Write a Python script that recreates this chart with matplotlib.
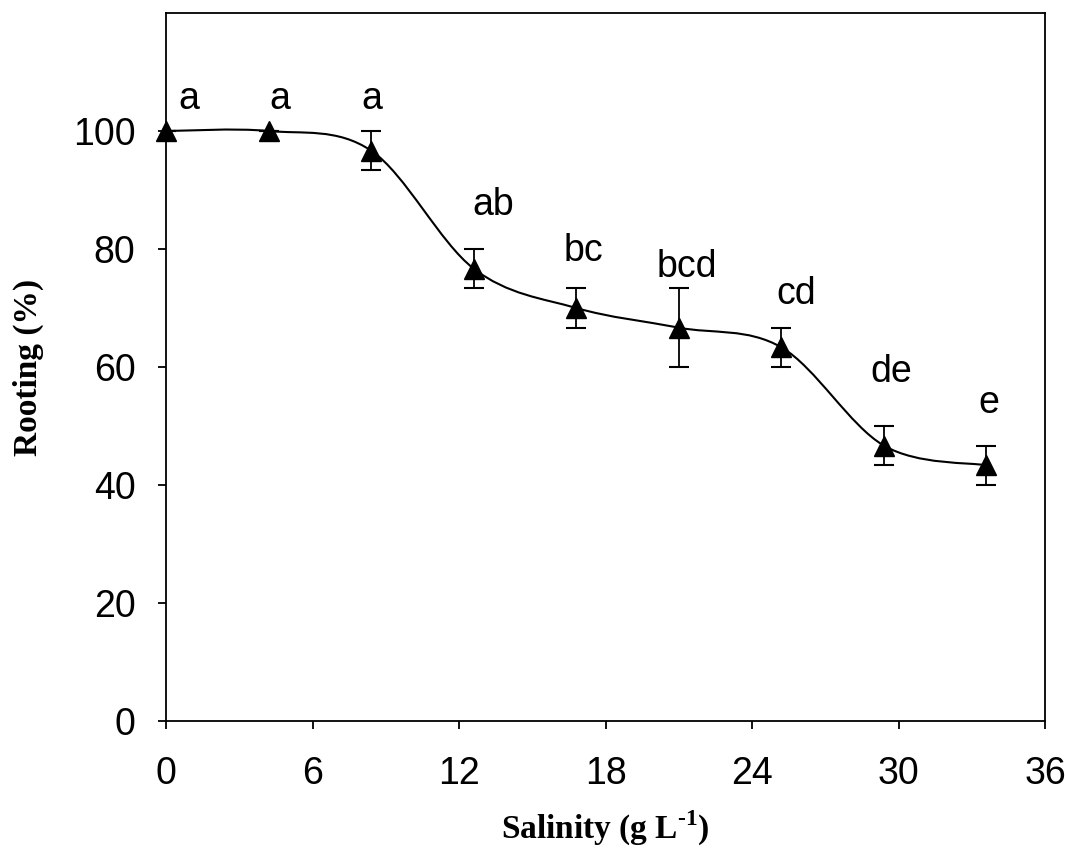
import numpy as np
import matplotlib
matplotlib.use("Agg")
import matplotlib.pyplot as plt
from matplotlib.path import Path
from matplotlib.patches import PathPatch

# Dados: enraizamento (%) vs. salinidade (g/L)
salinity = [0, 4.2, 8.4, 12.6, 16.8, 21.0, 25.2, 29.4, 33.6]
rooting = [100, 100, 96.67, 76.67, 70.0, 66.67, 63.33, 46.67, 43.33]
rooting_err = [0, 0, 3.33, 3.33, 3.33, 6.67, 3.33, 3.33, 3.33]
letters = ["a", "a", "a", "ab", "bc", "bcd", "cd", "de", "e"]

# deslocamento das letras em pixels (estilo)
letter_offsets = [(23, 22), (11, 22), (1, 42), (20, 54), (7, 47),
                  (8, 51), (15, 43), (7, 64), (2, 52)]

plt.rcParams["mathtext.fontset"] = "custom"
plt.rcParams["mathtext.rm"] = "Liberation Serif:bold"
plt.rcParams["mathtext.bf"] = "Liberation Serif:bold"

fig = plt.figure(figsize=(10.65, 8.5), dpi=100)
ax = fig.add_axes([0.1559, 0.1518, 0.8254, 0.8329])


def smooth_path(xs, ys):
    # curva suavizada estilo Excel (Bezier tipo Catmull-Rom)
    p = np.column_stack([xs, ys])
    n = len(p)
    verts = [p[0]]
    codes = [Path.MOVETO]
    for i in range(n - 1):
        p0 = p[i - 1] if i > 0 else p[i]
        p1 = p[i]
        p2 = p[i + 1]
        p3 = p[i + 2] if i + 2 < n else p[i + 1]
        c1 = p1 + (p2 - p0) / 6.0
        c2 = p2 - (p3 - p1) / 6.0
        verts += [c1, c2, p2]
        codes += [Path.CURVE4] * 3
    return Path(verts, codes)


ax.add_patch(PathPatch(smooth_path(salinity, rooting), facecolor="none",
                       edgecolor="black", lw=1.5, zorder=2))

ax.errorbar(salinity, rooting, yerr=rooting_err, fmt="none", ecolor="black",
            elinewidth=1.3, capsize=7.5, capthick=1.5, zorder=3)
ax.plot(salinity, rooting, linestyle="none", marker="^", markersize=15,
        color="black", zorder=4, clip_on=False)

for x, y, lab, (dx, dy) in zip(salinity, rooting, letters, letter_offsets):
    ax.annotate(lab, (x, y), xytext=(dx, dy), textcoords="offset pixels",
                ha="center", va="baseline", fontsize=27,
                family="Liberation Sans")

ax.set_xlim(0, 36)
ax.set_ylim(0, 120)
ax.set_xticks(np.arange(0, 37, 6))
ax.set_yticks(np.arange(0, 101, 20))

for s in ax.spines.values():
    s.set_linewidth(1.3)

ax.tick_params(direction="out", length=6, width=1.3, labelsize=27)
ax.tick_params(axis="x", pad=19)
ax.tick_params(axis="y", pad=16)
for t in ax.get_xticklabels() + ax.get_yticklabels():
    t.set_family("Liberation Sans")

ax.set_xlabel(r"Salinity (g L$^{\text{-1}}$)", fontsize=24,
              family="Liberation Serif", fontweight="bold", labelpad=12)
ax.set_ylabel("Rooting (%)", fontsize=24, family="Liberation Serif",
              fontweight="bold", labelpad=21)

fig.savefig("out.png", dpi=100)
